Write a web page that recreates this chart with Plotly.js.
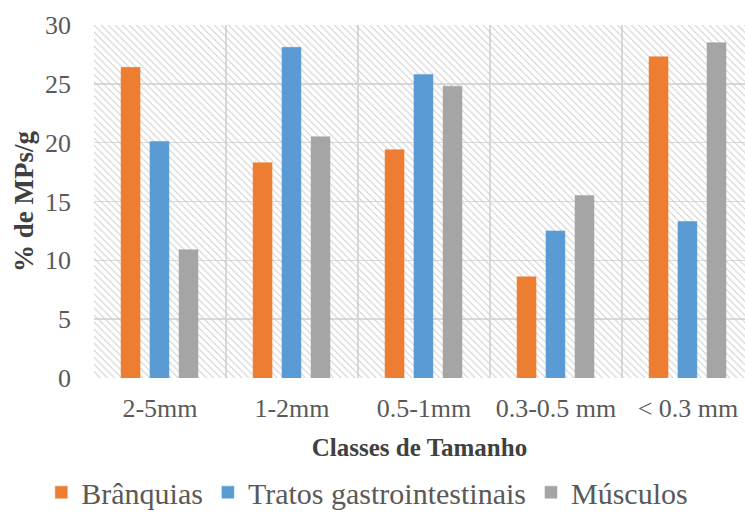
<!DOCTYPE html>
<html>
<head>
<meta charset="utf-8">
<script src="https://cdn.plot.ly/plotly-3.0.1.min.js"></script>
<style>html,body{margin:0;padding:0;background:#fff;}#chart{width:745px;height:517px;}</style>
</head>
<body>
<div id="chart"></div>
<script>
const categories = ["2-5mm", "1-2mm", "0.5-1mm", "0.3-0.5 mm", "< 0.3 mm"];
const branquias = [26.4, 18.3, 19.4, 8.6, 27.3];
const tratos = [20.1, 28.1, 25.8, 12.5, 13.3];
const musculos = [10.9, 20.5, 24.8, 15.5, 28.5];
const seriesNames = ["Brânquias", "Tratos gastrointestinais", "Músculos"];
const yTicks = [0, 5, 10, 15, 20, 25, 30];

const yMax = 30;
const barW = 0.144;
const colors = ["#ED7D31", "#5B9BD5", "#A5A5A5"];
const offsets = [-0.295, -0.076, 0.144];
const serif = "Liberation Serif, Times New Roman, serif";

const hatch = {
  type: "bar", x: [categories[2]], y: [yMax], width: [categories.length], base: 0,
  marker: { color: "#cccccc", line: { width: 0 },
    pattern: { shape: "\\", size: 5, solidity: 0.2, fillmode: "replace" } },
  hoverinfo: "skip", showlegend: false
};

const data = [hatch];
[branquias, tratos, musculos].forEach((vals, i) => {
  data.push({
    type: "bar", name: seriesNames[i], x: categories, y: vals,
    width: barW, offset: offsets[i],
    marker: { color: colors[i], line: { color: colors[i], width: 0.5 } }
  });
});

const layout = {
  width: 745, height: 517,
  margin: { l: 94, r: 0, t: 25, b: 139, pad: 0 },
  paper_bgcolor: "#ffffff", plot_bgcolor: "#ffffff",
  barmode: "overlay",
  font: { family: serif, color: "#595959" },
  xaxis: {
    type: "category", categoryorder: "array", categoryarray: categories,
    range: [-0.5, 4.432], tickson: "boundaries",
    showgrid: true, gridcolor: "#d9d9d9", gridwidth: 1.5,
    ticks: "", ticklabelstandoff: 12, tickfont: { size: 26, color: "#595959", family: serif },
    showline: false, zeroline: false, fixedrange: true,
    title: { text: "<b>Classes de Tamanho</b>", font: { size: 25, color: "#404040", family: serif }, standoff: 16 },
    automargin: false
  },
  yaxis: {
    range: [0, yMax], tickvals: yTicks, ticktext: yTicks.map(String),
    showgrid: true, gridcolor: "#d9d9d9", gridwidth: 1.5,
    ticks: "", ticklabelstandoff: 22, tickfont: { size: 26, color: "#595959", family: serif },
    showline: false, zeroline: false, fixedrange: true,
    title: { text: "<b>% de MPs/g</b>", font: { size: 27, color: "#404040", family: serif }, standoff: 3 },
    automargin: false
  },
  showlegend: true,
  legend: {
    orientation: "h", xref: "container", yref: "container",
    x: 0.493, xanchor: "center", y: 0.048, yanchor: "middle",
    font: { size: 30, color: "#595959", family: serif },
    bgcolor: "rgba(0,0,0,0)", traceorder: "normal"
  }
};

Plotly.newPlot("chart", data, layout, { displayModeBar: false, staticPlot: true });
</script>
</body>
</html>
